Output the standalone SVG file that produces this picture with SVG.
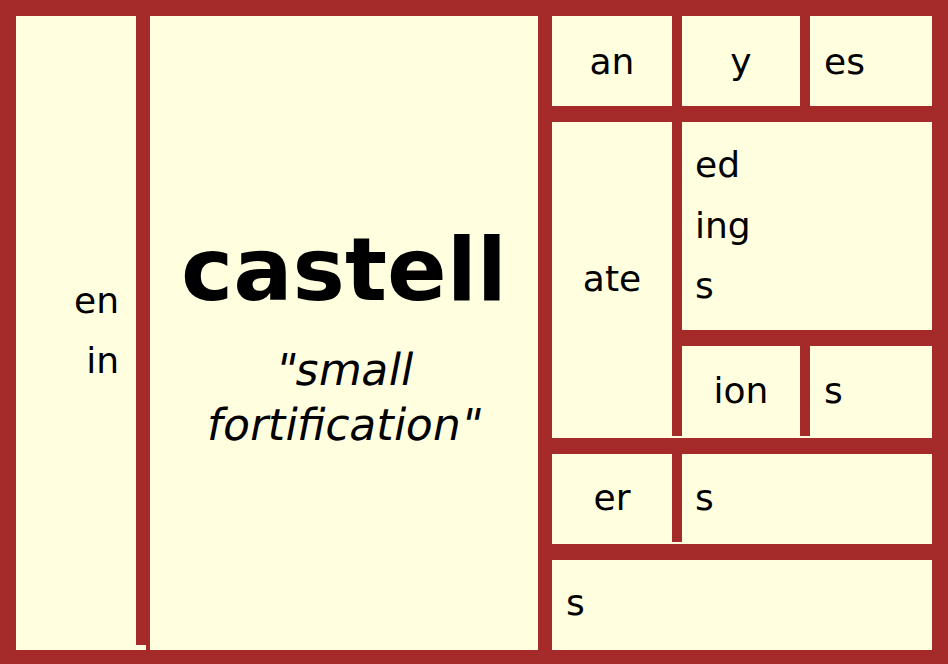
<svg xmlns="http://www.w3.org/2000/svg" width="948" height="664" viewBox="0 0 948 664">
<style>
.cell{fill:#FFFFE0}
text{font-family:"DejaVu Sans","Verdana",sans-serif;fill:#000}
.t{font-size:36px}
.c{text-anchor:middle}
.e{text-anchor:end}
.big{font-size:88px;font-weight:bold}
.it{font-size:44px}
</style>
<rect x="0" y="0" width="948" height="664" fill="#A52A2A"/>
<g id="prefix">
<rect class="cell" x="16" y="16" width="120" height="634"/>
<rect class="cell" x="136" y="645" width="10" height="5"/>
<text class="t e" x="119" y="313">en</text>
<text class="t e" x="119" y="373">in</text>
</g>
<g id="root">
<rect class="cell" x="150" y="16" width="388" height="634"/>
<text class="big c" x="344" y="300">castell</text>
<text class="it c" x="0" y="0" transform="translate(342,385) skewX(-11)">"small</text>
<text class="it c" x="0" y="0" transform="translate(342,440) skewX(-11)">fortification"</text>
</g>
<g id="an"><rect class="cell" x="552" y="16" width="120" height="90"/><text class="t c" x="612" y="74">an</text></g>
<g id="y"><rect class="cell" x="682" y="16" width="118" height="90"/><text class="t c" x="741" y="74">y</text></g>
<g id="es"><rect class="cell" x="810" y="16" width="122" height="90"/><text class="t" x="824" y="74">es</text></g>
<g id="ate"><rect class="cell" x="552" y="122" width="120" height="316"/><rect class="cell" x="672" y="436" width="10" height="2"/><text class="t c" x="612" y="291">ate</text></g>
<g id="ed-ing-s"><rect class="cell" x="682" y="122" width="250" height="208"/>
<text class="t" x="695" y="177">ed</text>
<text class="t" x="695" y="238">ing</text>
<text class="t" x="695" y="298">s</text>
</g>
<g id="ion"><rect class="cell" x="682" y="346" width="118" height="92"/><rect class="cell" x="800" y="436" width="10" height="2"/><text class="t c" x="741" y="403">ion</text></g>
<g id="ion-s"><rect class="cell" x="810" y="346" width="122" height="92"/><text class="t" x="824" y="403">s</text></g>
<g id="er"><rect class="cell" x="552" y="454" width="120" height="90"/><rect class="cell" x="672" y="542" width="10" height="2"/><text class="t c" x="612" y="510">er</text></g>
<g id="er-s"><rect class="cell" x="682" y="454" width="250" height="90"/><text class="t" x="695" y="510">s</text></g>
<g id="s"><rect class="cell" x="552" y="560" width="380" height="90"/><text class="t" x="566" y="615">s</text></g>
<g id="connectors"></g>
</svg>
